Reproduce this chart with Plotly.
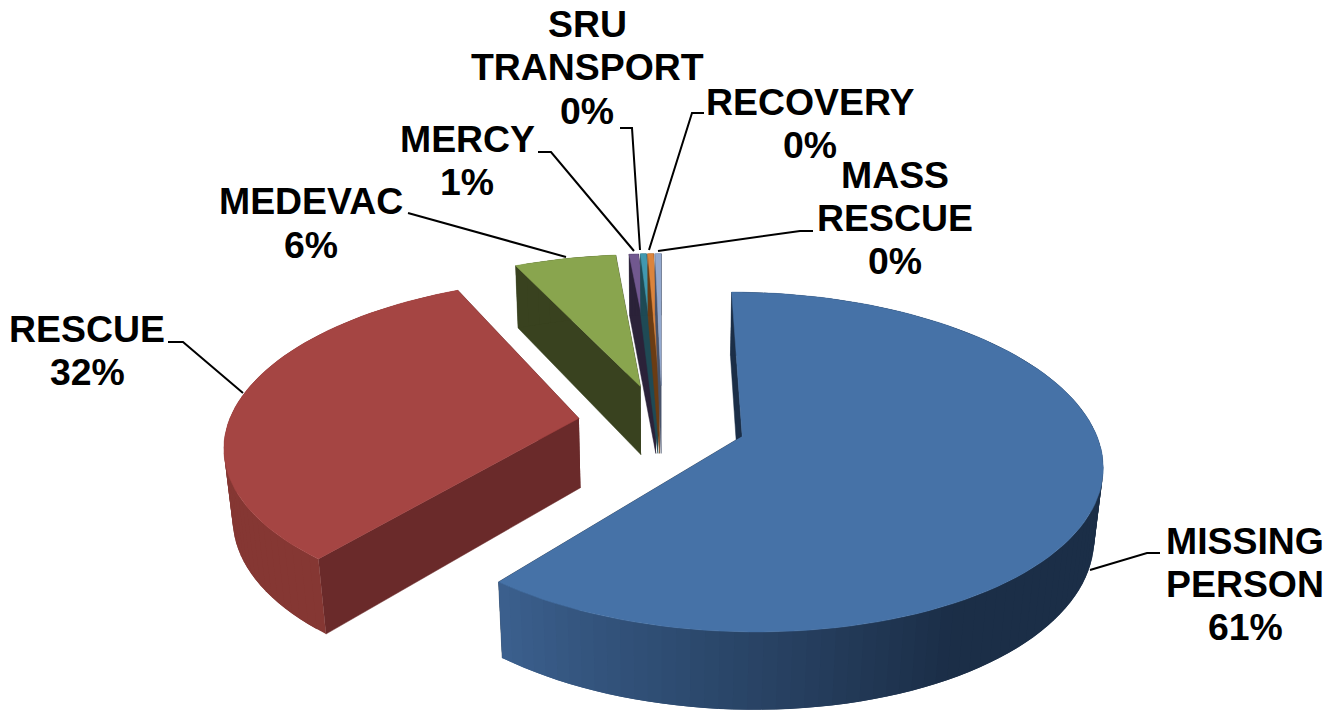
import numpy as np
import plotly.graph_objects as go

# ---- data ----
categories = ["MISSING PERSON", "RESCUE", "MEDEVAC", "MERCY", "SRU TRANSPORT", "RECOVERY", "MASS RESCUE"]
values = [60.9, 32.1, 5.52, 0.51, 0.32, 0.32, 0.33]
label_lines = [["MISSING", "PERSON"], ["RESCUE"], ["MEDEVAC"], ["MERCY"], ["SRU", "TRANSPORT"], ["RECOVERY"], ["MASS", "RESCUE"]]

# ---- styles ----
top_colors = ["#4672A7", "#A54543", "#89A54E", "#71588F", "#4198AF", "#DB843D", "#93A9CF"]
flat_wall = ["#1B2E47", "#6A2A2A", "#39421F", "#2B2239", "#1F4A55", "#6B3C13", "#48536A"]
wall_from = ["#3B608E", "#90403C", "#39421F", "#2B2239", "#1F4A55", "#6B3C13", "#48536A"]
wall_to = ["#1B2E47", "#853733", "#39421F", "#2B2239", "#1F4A55", "#6B3C13", "#48536A"]
label_pos = {
    0: (1245, [541, 584, 627]), 1: (87, [329, 372]), 2: (311, [201, 245]), 3: (467, [139, 182]),
    4: (587, [24, 67, 111]), 5: (810, [102, 145]), 6: (895, [175, 218, 261]),
}
leaders = [
    [(1160, 553), (1147, 553), (1090, 570)],
    [(168, 342), (183, 342), (243, 393)],
    [(408, 213), (566, 257)],
    [(538, 152), (551, 152), (634, 251)],
    [(620, 128), (632, 128), (640, 250)],
    [(704, 113), (692, 113), (649, 250)],
    [(813, 231), (800, 231), (658, 251)],
]
CX, CY, F, G, K, H, Q, E = 662, 423, 350.5, 162, 0.15, 71, 0.02, 0.24


def proj(wx, wy, z=0.0):
    d = 1 + K * wy + Q * z
    return CX + F * wx / d, CY - G * wy / d + H * z / d


def mix(c1, c2, t):
    a = [int(c1[i:i + 2], 16) for i in (1, 3, 5)]
    b = [int(c2[i:i + 2], 16) for i in (1, 3, 5)]
    return "rgb(%d,%d,%d)" % tuple(round(p + (q - p) * t) for p, q in zip(a, b))


def poly(xs, ys, color, width=0.0):
    return go.Scatter(x=list(xs), y=list(ys), mode="lines", fill="toself", fillcolor=color,
                      line=dict(color=color, width=width), hoverinfo="skip", showlegend=False)


fig = go.Figure()
total = sum(values)
edges = np.concatenate([[0], np.cumsum(values)]) / total * 2 * np.pi
order = [1, 2, 3, 4, 5, 6, 0]
for i in order:
    a0, a1 = edges[i], edges[i + 1]
    mid = (a0 + a1) / 2
    ox, oy = E * np.sin(mid), E * np.cos(mid)
    n = max(6, int((a1 - a0) / np.radians(2)))
    th = np.linspace(a0, a1, n + 1)
    rx, ry = ox + np.sin(th), oy + np.cos(th)
    # flat cut walls
    for a in (a1, a0):
        ex, ey = ox + np.sin(a), oy + np.cos(a)
        p = [proj(ox, oy), proj(ex, ey), proj(ex, ey, 1), proj(ox, oy, 1)]
        fig.add_trace(poly([q[0] for q in p], [q[1] for q in p], flat_wall[i], 0.5))
    # curved outer wall: shaded strips, each overlapping the next one so no seams show
    for j in range(n):
        t = np.clip((a1 - (th[j] + th[j + 1]) / 2) / np.radians(68), 0, 1)
        j2 = min(j + 2, n)
        idx = list(range(j, j2 + 1))
        up = [proj(rx[m], ry[m]) for m in idx]
        low = [proj(rx[m], ry[m], 1) for m in reversed(idx)]
        p = up + low
        fig.add_trace(poly([q[0] for q in p], [q[1] for q in p], mix(wall_from[i], wall_to[i], t)))
    # top face
    tx, ty = proj(np.r_[ox, rx], np.r_[oy, ry])
    fig.add_trace(poly(tx, ty, top_colors[i], 0.5))

shapes = []
for line in leaders:
    path = "M " + " L ".join(f"{x},{y}" for x, y in line)
    shapes.append(dict(type="path", path=path, xref="x", yref="y", line=dict(color="black", width=2)))

annotations = []
for i, lines in enumerate(label_lines):
    x, ys = label_pos[i]
    texts = lines + [f"{round(values[i] / total * 100)}%"]
    for text, y in zip(texts, ys):
        annotations.append(dict(x=x, y=y, xref="x", yref="y", text=f"<b>{text}</b>", showarrow=False,
                                xanchor="center", yanchor="middle",
                                font=dict(family="Liberation Sans", size=37.4, color="black")))

fig.update_layout(
    width=1327, height=712, margin=dict(l=0, r=0, t=0, b=0),
    paper_bgcolor="white", plot_bgcolor="white", showlegend=False,
    xaxis=dict(range=[0, 1327], visible=False, fixedrange=True),
    yaxis=dict(range=[712, 0], visible=False, fixedrange=True),
    shapes=shapes, annotations=annotations,
)
fig.write_html("out.html", post_script="document.body.style.margin='0';document.body.style.overflow='hidden';",
               config={"displayModeBar": False})
